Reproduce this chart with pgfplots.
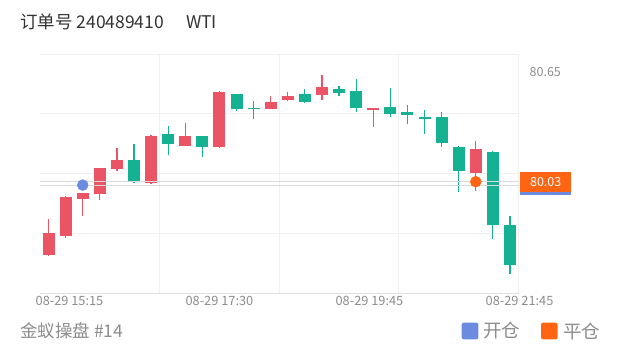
\documentclass[border=0pt]{standalone}
\usepackage{pgfplots}
\usepackage{pgfplotstable}
\pgfplotsset{compat=1.18}
\usepackage{fontspec}
\setmainfont{Noto Sans CJK SC}
\definecolor{upred}{HTML}{EB5464}
\definecolor{dngreen}{HTML}{14B292}
\definecolor{openblue}{HTML}{6B8BE0}
\definecolor{closeorange}{HTML}{FF6412}
\definecolor{gridc}{HTML}{F0F0F0}
\definecolor{pricel}{HTML}{DADADA}
\definecolor{txtgray}{HTML}{8C8C8C}
\definecolor{titlec}{HTML}{333333}

% x o h l c   (red = close above open)
\pgfplotstableread{
x o h l c
0 79.616 79.818 79.612 79.738
1 79.723 79.948 79.712 79.945
2 79.931 79.969 79.836 79.964
3 79.961 80.108 79.927 80.106
4 80.100 80.219 80.090 80.153
6 80.021 80.294 80.018 80.290
8 80.233 80.360 80.231 80.288
10 80.224 80.542 80.222 80.535
13 80.442 80.514 80.440 80.482
14 80.492 80.535 80.486 80.516
16 80.520 80.633 80.493 80.563
19 80.435 80.449 80.337 80.448
25 80.077 80.260 79.979 80.213
}\redtable

% green = close below open
\pgfplotstableread{
x o h l c
5 80.153 80.243 80.021 80.030
7 80.298 80.345 80.181 80.243
9 80.288 80.290 80.168 80.224
11 80.526 80.528 80.431 80.439
12 80.446 80.486 80.383 80.439
15 80.524 80.554 80.473 80.482
17 80.554 80.572 80.516 80.531
18 80.544 80.610 80.426 80.445
20 80.454 80.561 80.397 80.411
21 80.426 80.463 80.354 80.407
22 80.396 80.435 80.298 80.384
23 80.397 80.426 80.228 80.247
24 80.228 80.230 79.974 80.090
26 80.200 80.202 79.706 79.785
27 79.785 79.838 79.508 79.559
}\greentable

\begin{document}
\begin{tikzpicture}[x=1pt,y=1pt]
\path[use as bounding box] (0,0) rectangle (620,352);
\node[anchor=west, text=titlec, font=\fontsize{17.5}{20}\selectfont, inner sep=0pt] at (20,330) {订单号 240489410\hspace*{22pt}WTI};

\begin{axis}[
  at={(40pt,59pt)}, anchor=south west,
  scale only axis, width=478.5pt, height=239pt,
  xmin=-0.5, xmax=27.5, ymin=79.401, ymax=80.752,
  clip=false,
  axis line style={draw=none},
  xtick={6.5,13.5,20.5,27.5}, xticklabels={},
  ytick={79.740,80.078,80.415,80.752}, yticklabels={},
  major tick length=0pt,
  xmajorgrids, ymajorgrids,
  grid style={draw=gridc, line width=0.8pt},
]
% bottom axis line
\draw[draw=gray!25, line width=0.8pt] (axis cs:-0.5,79.401) -- (axis cs:27.5,79.401);

% wicks
\addplot[draw=none, mark=none, forget plot,
  error bars/.cd, y dir=plus, y explicit, error mark=none,
  error bar style={draw=upred, line width=1.2pt}]
  table[x=x, y=l, y error plus expr=\thisrow{h}-\thisrow{l}] {\redtable};
\addplot[draw=none, mark=none, forget plot,
  error bars/.cd, y dir=plus, y explicit, error mark=none,
  error bar style={draw=dngreen, line width=1.2pt}]
  table[x=x, y=l, y error plus expr=\thisrow{h}-\thisrow{l}] {\greentable};
% bodies
\addplot[draw=none, mark=none, forget plot,
  error bars/.cd, y dir=plus, y explicit, error mark=none,
  error bar style={draw=upred, line width=12pt}]
  table[x=x, y=o, y error plus expr=\thisrow{c}-\thisrow{o}] {\redtable};
\addplot[draw=none, mark=none, forget plot,
  error bars/.cd, y dir=plus, y explicit, error mark=none,
  error bar style={draw=dngreen, line width=12pt}]
  table[x=x, y=c, y error plus expr=\thisrow{o}-\thisrow{c}] {\greentable};

% open / close price lines
\addplot[draw=pricel, line width=1pt, mark=none] coordinates {(-0.5,80.011) (27.5,80.011)};
\addplot[draw=pricel, line width=1pt, mark=none] coordinates {(-0.5,80.030) (27.5,80.030)};

% open / close markers
\addplot[only marks, mark=*, mark size=5.5pt, color=openblue] coordinates {(2,80.011)};
\addplot[only marks, mark=*, mark size=5.5pt, color=closeorange] coordinates {(25,80.030)};

% price labels on the right
\node[anchor=west, fill=openblue, minimum width=51pt, minimum height=20pt, inner sep=0pt, xshift=1.5pt] at (axis cs:27.5,80.011) {};
\node[anchor=west, fill=closeorange, text=white, minimum width=51pt, minimum height=20pt, inner sep=0pt, xshift=1.5pt, font=\fontsize{12.5}{14}\selectfont] at (axis cs:27.5,80.030) {80.03};
\node[anchor=west, text=txtgray, inner sep=0pt, xshift=11pt, font=\fontsize{12.5}{14}\selectfont] at (axis cs:27.5,80.65) {80.65};

% x tick labels
\node[anchor=north, text=txtgray, inner sep=0pt, yshift=-3pt, font=\fontsize{12.8}{14}\selectfont] at (axis cs:1.226,79.401) {08-29 15:15};
\node[anchor=north, text=txtgray, inner sep=0pt, yshift=-3pt, font=\fontsize{12.8}{14}\selectfont] at (axis cs:10.0,79.401) {08-29 17:30};
\node[anchor=north, text=txtgray, inner sep=0pt, yshift=-3pt, font=\fontsize{12.8}{14}\selectfont] at (axis cs:18.78,79.401) {08-29 19:45};
\node[anchor=north, text=txtgray, inner sep=0pt, yshift=-3pt, font=\fontsize{12.8}{14}\selectfont] at (axis cs:27.56,79.401) {08-29 21:45};
\end{axis}

% footer
\node[anchor=west, text=txtgray, inner sep=0pt, font=\fontsize{17.5}{20}\selectfont] at (20,21) {金蚁操盘 \#14};
\fill[openblue, rounded corners=2pt] (461.7,12.7) rectangle (478.3,29.3);
\node[anchor=west, text=txtgray, inner sep=0pt, font=\fontsize{18.5}{21}\selectfont] at (483,21) {开仓};
\fill[closeorange, rounded corners=2pt] (541,12.7) rectangle (557.6,29.3);
\node[anchor=west, text=txtgray, inner sep=0pt, font=\fontsize{18.5}{21}\selectfont] at (563,21) {平仓};
\end{tikzpicture}
\end{document}
